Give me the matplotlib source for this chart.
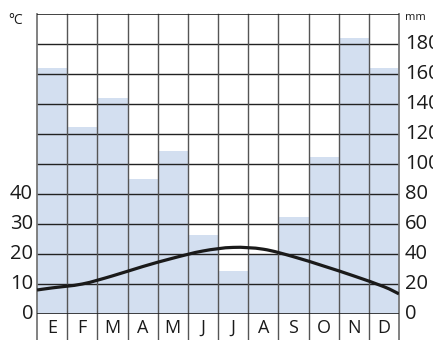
import numpy as np
import matplotlib.pyplot as plt
from matplotlib.path import Path
from matplotlib.patches import PathPatch

plt.rcParams['font.family'] = ['Open Sans', 'DejaVu Sans']

# Datos climáticos
meses = ['E', 'F', 'M', 'A', 'M', 'J', 'J', 'A', 'S', 'O', 'N', 'D']
precip_mm = [164, 125, 144, 90, 109, 53, 29, 40, 65, 105, 184, 164]
temp_c = [8.7, 10.0, 12.7, 15.8, 18.6, 21.0, 22.2, 21.6, 19.1, 16.0, 12.7, 9.1]
temp_inicio = 8.0   # valor en el borde izquierdo
temp_fin = 6.7      # valor en el borde derecho
ticks_c = [0, 10, 20, 30, 40]
ticks_mm = [0, 20, 40, 60, 80, 100, 120, 140, 160, 180]

fig = plt.figure(figsize=(4.33, 3.40), dpi=100)
ax = fig.add_axes([37 / 433, 26 / 340, 362 / 433, 300 / 340])
ax_t = ax.twinx()

x = np.arange(len(meses)) + 0.5
ax.bar(x, precip_mm, width=1.0, color='#d3dff0', zorder=1)
ax.set_xlim(0, 12)
ax.set_ylim(0, 200)
ax_t.set_ylim(0, 100)

# rejilla
for y in range(20, 200, 20):
    ax.axhline(y, color='#222222', lw=1.0, zorder=2)
for k in range(1, 12):
    ax.plot([k, k], [-0.087, 1], transform=ax.get_xaxis_transform(),
            color='#555555', lw=1.0, clip_on=False, zorder=2)
for k in (0, 12):
    ax.plot([k, k], [-0.087, 1], transform=ax.get_xaxis_transform(),
            color='#777777', lw=1.3, clip_on=False, zorder=3)
ax.axhline(0, color='#222222', lw=1.2, zorder=3)
ax.axhline(200, color='#222222', lw=1.2, zorder=3)
for s in ax.spines.values():
    s.set_visible(False)
for s in ax_t.spines.values():
    s.set_visible(False)

# curva de temperatura suavizada (Catmull-Rom -> Bezier)
px = np.concatenate([[0], x, [12]])
py = np.concatenate([[temp_inicio], temp_c, [temp_fin]])
pts = np.column_stack([px, py])
verts = [tuple(pts[0])]
codes = [Path.MOVETO]
for i in range(len(pts) - 1):
    p0 = pts[i - 1] if i > 0 else pts[i]
    p1 = pts[i]
    p2 = pts[i + 1]
    p3 = pts[i + 2] if i + 2 < len(pts) else pts[i + 1]
    c1 = p1 + (p2 - p0) / 6
    c2 = p2 - (p3 - p1) / 6
    verts += [tuple(c1), tuple(c2), tuple(p2)]
    codes += [Path.CURVE4] * 3
ax_t.add_patch(PathPatch(Path(verts, codes), facecolor='none',
                         edgecolor='#1a1a1a', lw=2.3, zorder=5))

# ejes y etiquetas
ax.set_xticks([])
ax.set_yticks([])
ax_t.set_yticks([])
ax_t.tick_params(right=False)

for t in ticks_c:
    ax_t.text(-0.011, t, str(t), transform=ax_t.get_yaxis_transform(),
              ha='right', va='center', fontsize=14.5, color='#1a1a1a')
for m in ticks_mm:
    ax.text(1.016, m, str(m), transform=ax.get_yaxis_transform(),
            ha='left', va='center', fontsize=14.5, color='#1a1a1a')
for xi, lab in zip(x, meses):
    ax.text(xi, -0.047, lab, transform=ax.get_xaxis_transform(),
            ha='center', va='center', fontsize=13, color='#1a1a1a')

fig.text(8 / 433, 1 - 20 / 340, '°C', fontsize=10, va='center', ha='left', color='#1a1a1a')
fig.text(405 / 433, 1 - 18 / 340, 'mm', fontsize=8, va='center', ha='left', color='#1a1a1a')

fig.savefig('out.png', dpi=100)
